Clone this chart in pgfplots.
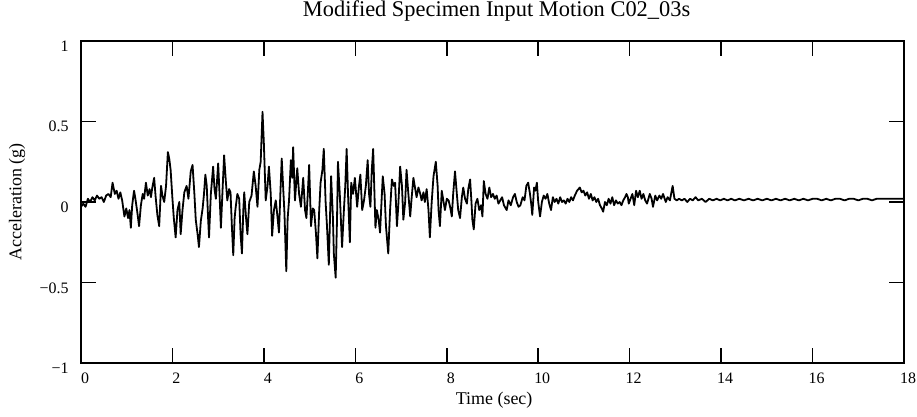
\documentclass[border=0pt]{standalone}
\usepackage{fontspec}
\setmainfont{Liberation Serif}
\usepackage{pgfplots}
\pgfplotsset{compat=1.18}
\begin{document}
\begin{tikzpicture}
\useasboundingbox (-81bp,-54bp) rectangle (836bp,363bp);
\begin{axis}[
  at={(0,0)}, anchor=south west,
  scale only axis, width=823bp, height=322bp,
  xmin=0, xmax=18, ymin=-1, ymax=1,
  xtick={0,2,4,6,8,10,12,14,16,18},
  ytick={-1,-0.5,0,0.5,1},
  yticklabels={−1,−0.5,0,0.5,1},
  tick align=inside,
  major tick length=15bp,
  every tick/.style={line width=1.6bp, black},
  axis line style={line width=1.6bp},
  /pgf/number format/assume math mode=true,
  tick label style={font=\fontsize{16}{19}\selectfont},
  xticklabel style={anchor=base, xshift=4bp, yshift=-20.5bp},
  yticklabel style={anchor=base east, xshift=-9bp, yshift=-10.5bp},
  title={Modified Specimen Input Motion C02\_03s},
  title style={font=\fontsize{22.5}{26}\selectfont, at={(axis description cs:0.505,1.0590)}, anchor=base},
  xlabel={Time (sec)},
  xlabel style={font=\fontsize{18}{21}\selectfont, at={(axis description cs:0.502,-0.1304)}, anchor=base},
  ylabel={Acceleration (g)},
  ylabel style={font=\fontsize{18}{21}\selectfont, at={(axis description cs:-0.0778,0.5)}, anchor=center},
]
\addplot[black, line width=1.8bp, line join=round] table {
0.00 -0.03
0.05 -0.01
0.10 -0.03
0.15 0.02
0.20 0.00
0.25 0.03
0.30 0.01
0.35 0.04
0.40 0.02
0.45 0.03
0.50 0.00
0.55 0.04
0.60 0.05
0.65 0.03
0.69 0.12
0.74 0.05
0.78 0.07
0.82 0.02
0.86 0.06
0.90 0.01
0.95 -0.09
0.99 -0.04
1.03 -0.10
1.06 -0.05
1.09 -0.16
1.12 -0.02
1.16 0.07
1.19 0.02
1.23 -0.06
1.27 -0.15
1.31 -0.02
1.35 0.05
1.38 0.02
1.42 0.12
1.46 0.04
1.50 0.08
1.53 0.03
1.56 0.09
1.60 0.15
1.63 0.04
1.67 -0.08
1.71 -0.15
1.75 0.10
1.78 0.04
1.82 0.00
1.86 0.10
1.90 0.31
1.93 0.27
1.96 0.20
2.00 0.02
2.03 -0.10
2.07 -0.22
2.11 -0.05
2.15 0.00
2.18 -0.20
2.22 -0.05
2.26 0.06
2.31 0.10
2.35 0.02
2.40 0.19
2.44 0.23
2.48 0.05
2.51 -0.11
2.55 -0.20
2.58 -0.28
2.62 -0.12
2.66 -0.04
2.69 0.05
2.72 0.17
2.75 0.10
2.78 -0.10
2.80 -0.22
2.84 0.05
2.89 0.22
2.92 0.08
2.95 0.02
3.00 0.24
3.03 0.05
3.06 -0.16
3.10 0.10
3.13 0.29
3.17 0.12
3.20 0.01
3.24 0.08
3.27 0.06
3.30 -0.15
3.33 -0.33
3.36 -0.10
3.38 -0.04
3.42 0.05
3.46 0.02
3.49 -0.20
3.52 -0.32
3.55 -0.05
3.57 0.06
3.61 -0.10
3.64 -0.20
3.68 0.00
3.73 0.04
3.78 0.19
3.82 0.10
3.86 -0.03
3.90 0.20
3.93 0.25
3.97 0.56
4.00 0.36
4.04 0.01
4.08 0.10
4.11 0.22
4.15 0.05
4.18 -0.21
4.22 -0.05
4.26 0.01
4.30 -0.10
4.33 -0.19
4.36 0.05
4.39 0.27
4.42 0.10
4.45 -0.07
4.49 -0.43
4.52 -0.10
4.55 0.01
4.59 0.26
4.62 0.15
4.64 0.34
4.68 0.01
4.73 0.21
4.77 0.05
4.81 -0.03
4.86 0.15
4.90 -0.05
4.93 -0.10
4.96 0.05
4.99 0.23
5.03 -0.15
5.07 -0.04
5.10 -0.05
5.14 -0.20
5.17 -0.35
5.21 -0.05
5.24 0.12
5.28 0.20
5.31 0.33
5.35 0.00
5.38 -0.15
5.42 -0.39
5.45 -0.05
5.47 0.16
5.51 -0.10
5.53 -0.32
5.57 -0.47
5.60 -0.10
5.62 0.25
5.66 0.05
5.71 -0.28
5.75 -0.05
5.78 0.10
5.81 0.33
5.84 0.05
5.88 -0.25
5.91 0.12
5.95 0.05
5.99 0.15
6.04 -0.03
6.08 0.10
6.11 0.17
6.15 -0.05
6.19 0.01
6.23 0.10
6.27 0.26
6.30 0.05
6.33 -0.03
6.36 0.20
6.39 0.33
6.44 -0.16
6.47 -0.05
6.51 -0.11
6.54 -0.19
6.60 0.16
6.64 0.05
6.67 -0.15
6.72 -0.32
6.76 -0.05
6.80 0.14
6.84 0.10
6.87 0.12
6.91 -0.15
6.94 -0.02
6.98 0.22
7.02 0.10
7.05 -0.11
7.09 0.00
7.12 0.20
7.16 0.05
7.20 -0.09
7.23 0.02
7.27 0.15
7.31 0.08
7.34 0.03
7.38 0.09
7.42 0.05
7.45 0.01
7.49 0.06
7.52 0.00
7.56 0.08
7.60 -0.05
7.63 -0.22
7.67 0.00
7.71 0.16
7.76 0.25
7.80 0.10
7.82 -0.05
7.85 -0.15
7.89 0.07
7.93 0.00
7.96 -0.05
8.00 0.02
8.04 0.01
8.08 -0.04
8.11 -0.09
8.14 0.05
8.18 0.19
8.22 0.05
8.25 -0.05
8.29 -0.10
8.33 0.03
8.36 0.09
8.40 0.02
8.44 -0.01
8.47 0.08
8.51 0.14
8.54 0.00
8.56 -0.11
8.59 -0.17
8.63 -0.01
8.67 0.02
8.71 -0.05
8.75 -0.02
8.78 -0.09
8.81 0.13
8.85 0.05
8.89 0.02
8.93 0.09
8.97 0.03
9.01 0.05
9.05 0.02
9.09 0.04
9.13 -0.01
9.17 0.01
9.21 0.03
9.25 -0.02
9.31 -0.05
9.35 0.01
9.40 -0.02
9.45 0.03
9.49 0.05
9.53 0.00
9.57 -0.03
9.61 -0.02
9.66 0.03
9.70 0.01
9.74 0.10
9.78 0.12
9.82 0.05
9.85 -0.02
9.87 -0.08
9.91 0.09
9.94 0.07
9.97 0.12
10.00 0.00
10.04 -0.09
10.08 0.00
10.12 0.04
10.16 0.02
10.20 0.05
10.24 -0.01
10.28 -0.05
10.32 0.03
10.36 0.00
10.40 0.02
10.44 -0.01
10.48 0.03
10.52 0.00
10.56 0.01
10.60 -0.01
10.64 0.02
10.68 0.00
10.72 0.03
10.76 0.01
10.80 0.04
10.85 0.07
10.91 0.09
10.95 0.06
10.99 0.07
11.03 0.04
11.07 0.06
11.11 0.02
11.15 0.05
11.19 0.01
11.23 0.03
11.27 0.00
11.31 0.02
11.35 -0.02
11.39 -0.04
11.42 -0.06
11.46 0.00
11.50 -0.02
11.54 0.02
11.58 -0.01
11.62 0.03
11.66 -0.02
11.70 0.01
11.74 -0.01
11.78 0.00
11.82 -0.02
11.86 0.01
11.90 0.03
11.93 0.05
11.96 0.03
11.98 -0.01
12.02 0.02
12.06 0.05
12.10 -0.02
12.14 0.07
12.18 0.03
12.22 0.07
12.26 0.02
12.30 0.05
12.34 0.01
12.38 -0.01
12.44 0.05
12.48 0.02
12.51 -0.03
12.56 0.04
12.60 0.01
12.65 0.04
12.69 0.02
12.73 0.05
12.79 0.00
12.83 0.03
12.88 0.01
12.94 0.10
12.98 0.02
13.03 0.01
13.08 0.02
13.14 0.01
13.20 0.02
13.26 0.00
13.32 0.02
13.38 0.01
13.44 0.03
13.50 0.01
13.58 0.02
13.66 0.00
13.74 0.02
13.82 0.01
13.90 0.02
13.98 0.01
14.06 0.02
14.14 0.01
14.22 0.02
14.30 0.01
14.40 0.02
14.50 0.01
14.60 0.02
14.70 0.01
14.80 0.02
14.90 0.01
15.00 0.02
15.10 0.01
15.20 0.02
15.30 0.01
15.40 0.02
15.50 0.01
15.60 0.02
15.70 0.01
15.80 0.02
15.90 0.01
16.00 0.02
16.10 0.02
16.20 0.01
16.30 0.02
16.40 0.01
16.50 0.02
16.60 0.02
16.70 0.01
16.80 0.02
16.90 0.02
17.00 0.01
17.10 0.02
17.20 0.02
17.30 0.01
17.40 0.02
17.50 0.02
17.60 0.02
17.70 0.02
17.80 0.02
17.90 0.02
18.00 0.02
};
\end{axis}
\end{tikzpicture}
\end{document}
